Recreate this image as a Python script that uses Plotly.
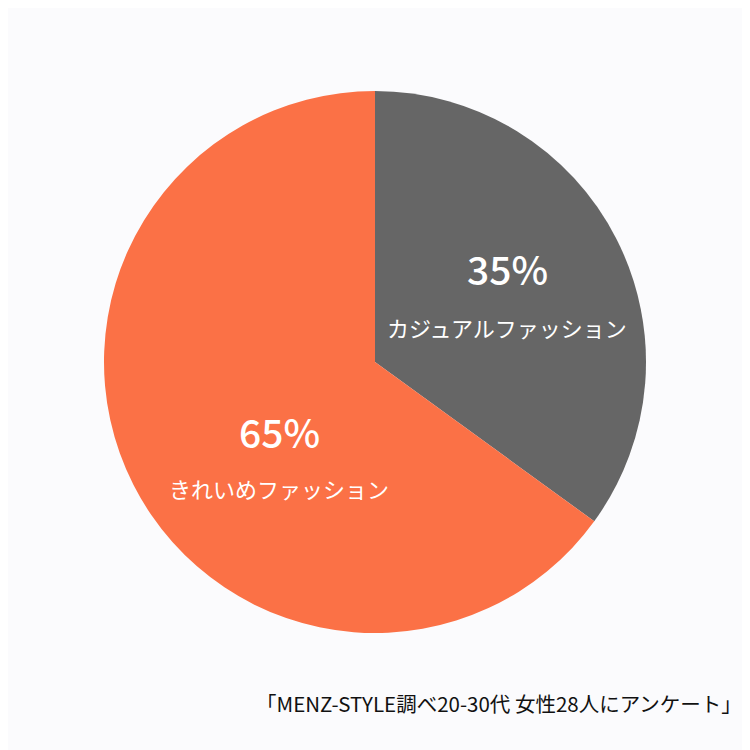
import plotly.graph_objects as go

# アンケート結果
labels = ['カジュアルファッション', 'きれいめファッション']
values = [35, 65]
colors = ['#666666', '#fb7146']
source = '「MENZ-STYLE調べ20-30代 女性28人にアンケート」'

# ページ余白 8px を差し引いて配置
S = 742
OFF = 8


def px_x(p):
    return (p - OFF) / S


def px_y(p):
    return 1 - (p - OFF) / S


fig = go.Figure(go.Pie(
    labels=labels,
    values=values,
    sort=False,
    direction='clockwise',
    rotation=0,
    marker=dict(colors=colors, line=dict(width=0)),
    textinfo='none',
    hoverinfo='label+percent',
    domain=dict(x=[px_x(104), px_x(646)], y=[px_y(633), px_y(91)]),
))

font = 'Noto Sans CJK JP, Noto Sans, sans-serif'

# ラベル
pos = [(507, 268, 327), (279, 431, 488)]
for lab, val, (x, y1, y2) in zip(labels, values, pos):
    fig.add_annotation(text=f'{val}%', x=px_x(x), y=px_y(y1), xref='paper', yref='paper',
                       xanchor='center', showarrow=False,
                       font=dict(size=39, color='white', family=font, weight=500))
    fig.add_annotation(text=lab, x=px_x(x), y=px_y(y2), xref='paper', yref='paper',
                       xanchor='center', showarrow=False,
                       font=dict(size=22, color='white', family=font, weight=400))

fig.add_annotation(text=source, x=px_x(744), y=px_y(720), xref='paper', yref='paper',
                   xanchor='right', showarrow=False,
                   font=dict(size=20.5, color='#111111', family=font, weight=400))

fig.update_layout(
    width=S, height=S,
    margin=dict(l=0, r=0, t=0, b=0),
    paper_bgcolor='#fbfbfd',
    showlegend=False,
)
fig.write_html('out.html')
